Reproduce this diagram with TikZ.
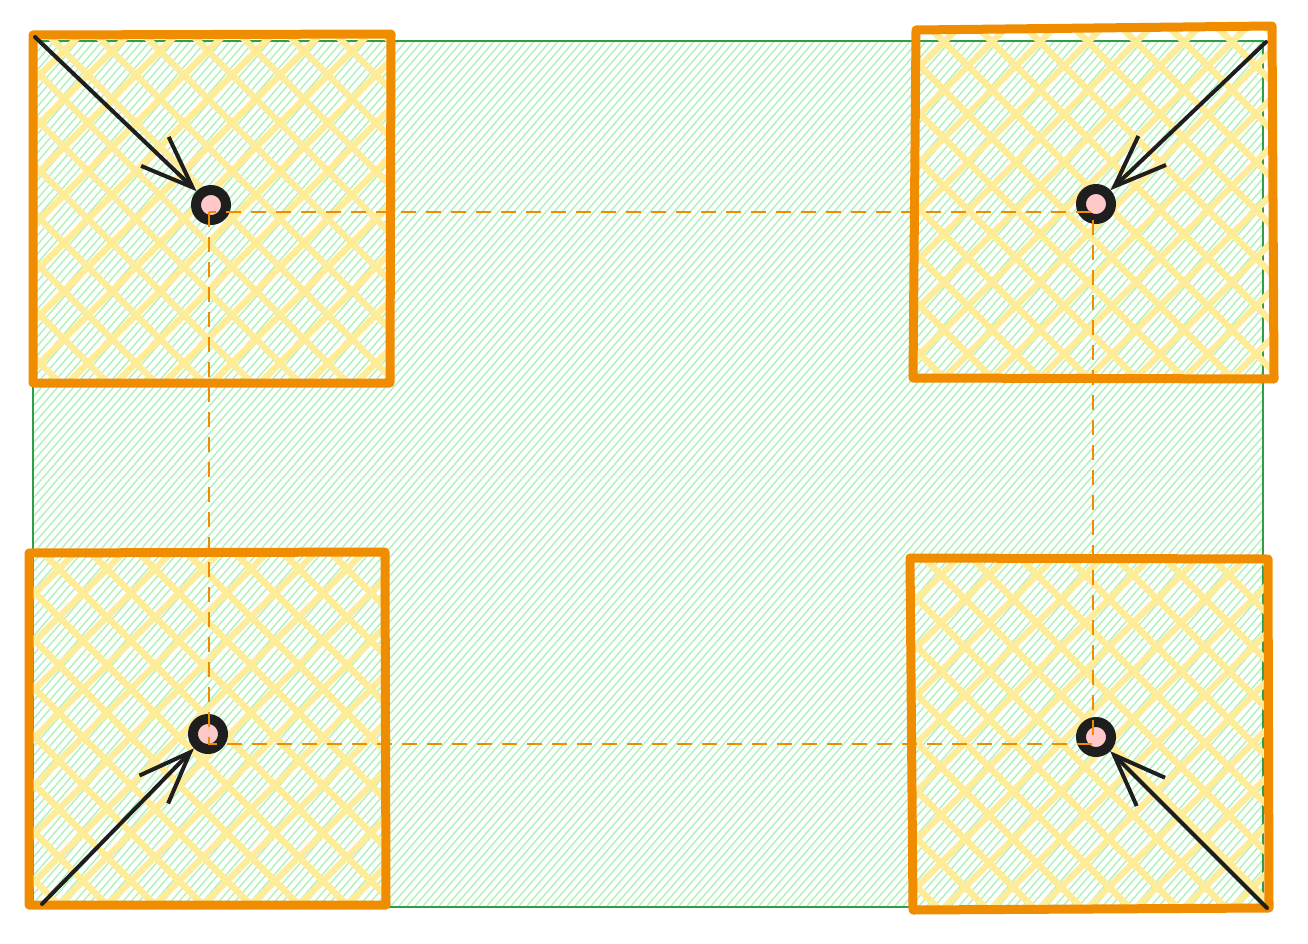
\documentclass[tikz,border=0pt]{standalone}
\usetikzlibrary{arrows.meta}
\definecolor{orng}{HTML}{F08C00}
\definecolor{ylw}{HTML}{FFEC99}
\definecolor{grn}{HTML}{2F9E44}
\definecolor{lgrn}{HTML}{B2F2BB}
\definecolor{pnk}{HTML}{FFC9C9}
\definecolor{ink}{HTML}{1E1E1E}
\newcommand\yellowhatch[2]{%
  \foreach \k in {0,...,15} {
    \draw[yh] ({#1-370+\k*48}, #2) -- ++(380,380);
    \draw[yh] ({#1-370+\k*48}, #2+370) -- ++(380,-380);
  }%
}
\begin{document}
\begin{tikzpicture}[x=1pt,y=-1pt,
  yh/.style={ylw, line width=6.5pt},
  gh/.style={lgrn, line width=1.5pt},
  sq/.style={orng, line width=9pt, line join=round, line cap=round},
  dot/.style={circle, draw=ink, fill=pnk, line width=10pt, minimum size=30pt, inner sep=0pt},
  arr/.style={ink, line width=4pt, line cap=round, line join=round, -{Straight Barb[length=52pt,width=40pt]}},
  dsh/.style={orng, line width=2.5pt, dash pattern=on 15pt off 10pt}]
\useasboundingbox (0,0) rectangle (1308,944);
% green area
\begin{scope}
  \clip (33,41) rectangle (1263,907);
  \foreach \c in {-850,-842,...,1300} \draw[gh] (\c,944) -- ++(820,-944);
\end{scope}
\draw[grn, line width=1.8pt] (33,41) rectangle (1263,907);
% yellow hatching in squares
\begin{scope}
  \clip (33,34) -- (391,34) -- (390,384) -- (32,384) -- cycle;
  \yellowhatch{33}{34}
\end{scope}
\begin{scope}
  \clip (916,29) -- (1272,25) -- (1274,379) -- (913,378) -- cycle;
  \yellowhatch{913}{25}
\end{scope}
\begin{scope}
  \clip (29,553) -- (385,552) -- (387,905) -- (28,906) -- cycle;
  \yellowhatch{28}{552}
\end{scope}
\begin{scope}
  \clip (910,558) -- (1268,559) -- (1269,908) -- (913,910) -- cycle;
  \yellowhatch{910}{558}
\end{scope}
% points
\node[dot] (p1) at (211,205) {};
\node[dot] (p2) at (1096,204) {};
\node[dot] (p3) at (208,734) {};
\node[dot] (p4) at (1096,737) {};
% dashed rectangle
\coordinate (d1) at (209,212);
\coordinate (d3) at (1093,744);
\draw[dsh] (d1) rectangle (d3);
% orange squares
\draw[sq] (33,35) -- (391,34) -- (390,383) -- (33,383) -- cycle;
\draw[sq] (916,30) -- (1272,26) -- (1274,379) -- (913,378) -- cycle;
\draw[sq] (29,553) -- (385,552) -- (386,905) -- (29,905) -- cycle;
\draw[sq] (910,558) -- (1268,559) -- (1269,908) -- (913,910) -- cycle;
% arrows
\coordinate (s1) at (35,37);
\coordinate (s2) at (1266,42);
\coordinate (s3) at (42,904);
\coordinate (s4) at (1267,908);
\draw[arr] (s1) -- (p1);
\draw[arr] (s2) -- (p2);
\draw[arr] (s3) -- (p3);
\draw[arr] (s4) -- (p4);
\end{tikzpicture}
\end{document}
